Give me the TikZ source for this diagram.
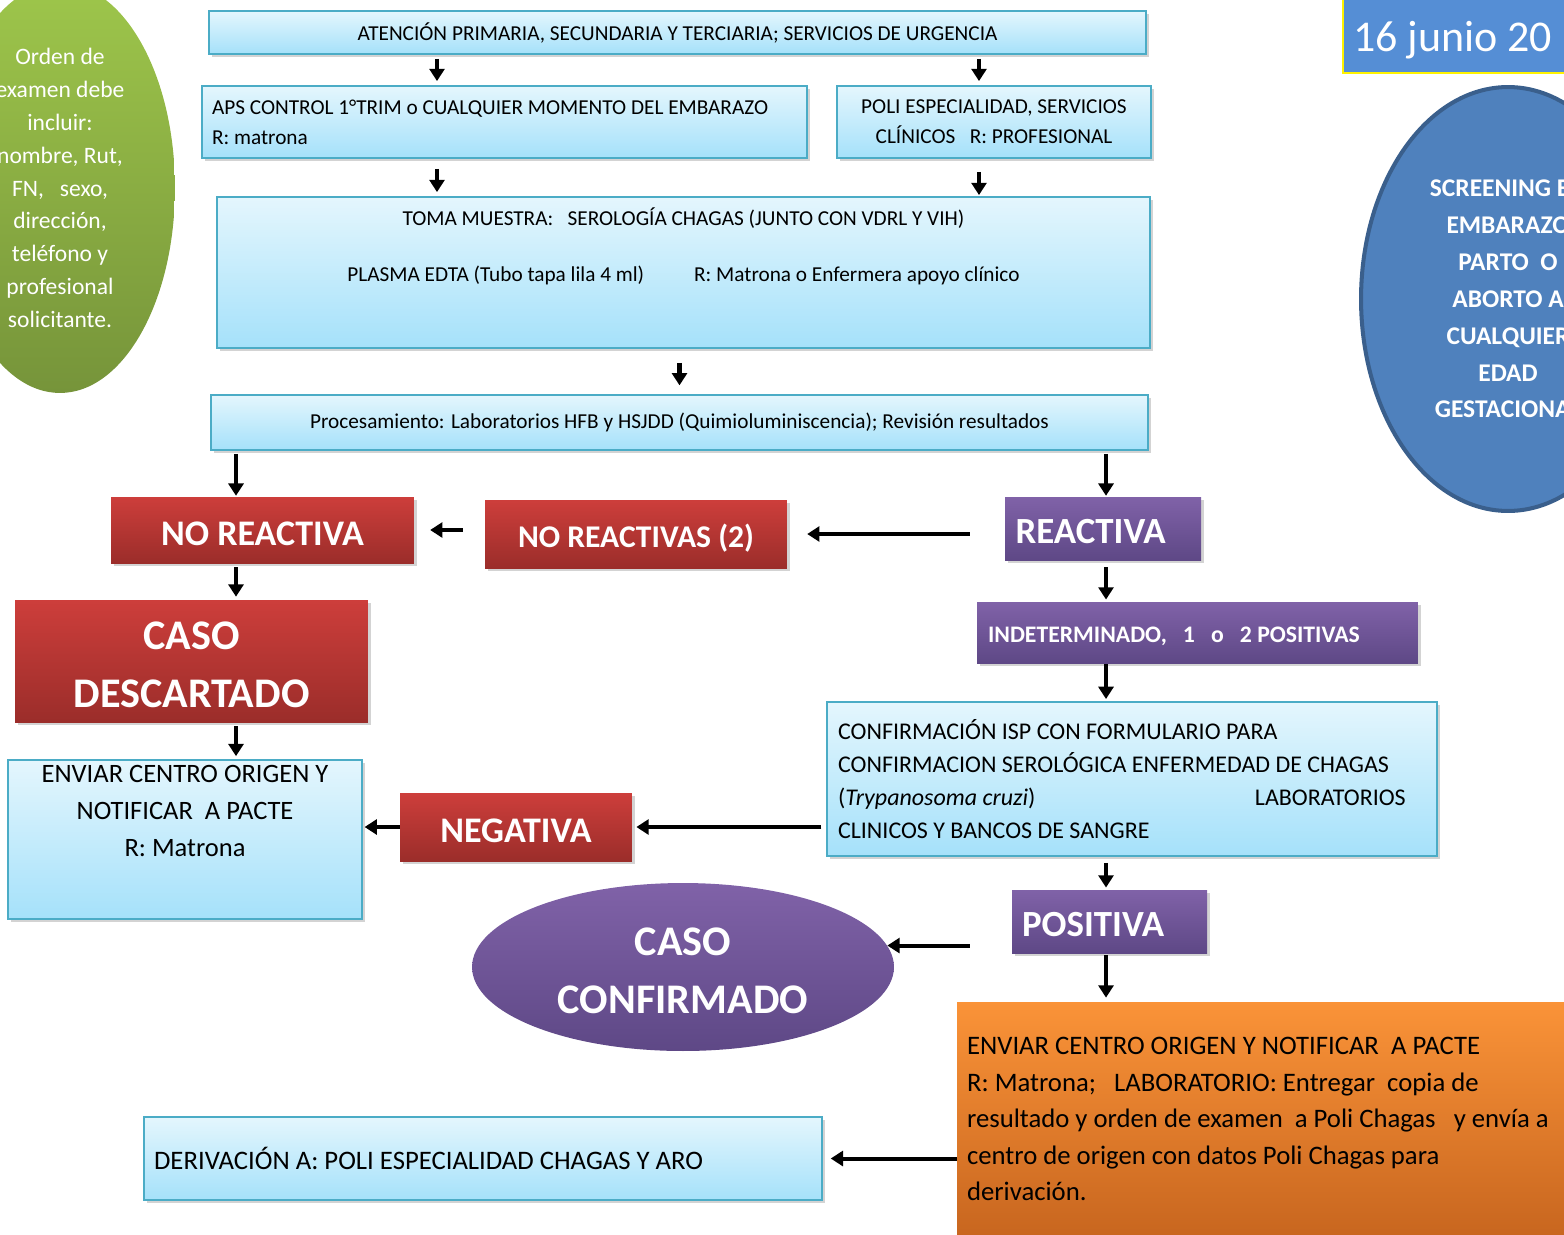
\documentclass[tikz,border=0pt]{standalone}
\usepackage{fontspec}
\setmainfont{Carlito}
\usetikzlibrary{arrows.meta,positioning,shapes.geometric,shadows}

\definecolor{cyanedge}{HTML}{4BACC6}
\definecolor{cyantop}{HTML}{E4F6FD}
\definecolor{cyanbot}{HTML}{A5E1FA}
\definecolor{redtop}{HTML}{CD3E3B}
\definecolor{redbot}{HTML}{9B2D2A}
\definecolor{purtop}{HTML}{8062A8}
\definecolor{purbot}{HTML}{5E4886}
\definecolor{orgtop}{HTML}{FA9338}
\definecolor{orgbot}{HTML}{C8661F}
\definecolor{grntop}{HTML}{9EC64B}
\definecolor{grnbot}{HTML}{76943A}
\definecolor{ovalblue}{HTML}{4F81BD}
\definecolor{ovaledge}{HTML}{3A5F8C}
\definecolor{datefill}{HTML}{558ED5}

\tikzset{
  boxshadow/.style={drop shadow={shadow xshift=1.6pt,shadow yshift=-1.6pt,opacity=.35}},
  infobox/.style={draw=cyanedge, line width=1pt, top color=cyantop, bottom color=cyanbot,
                  inner sep=0pt, boxshadow},
  redbox/.style={top color=redtop, bottom color=redbot, text=white, inner sep=0pt, boxshadow,
                 font=\fontsize{20.5}{24}\selectfont\bfseries},
  purplebox/.style={top color=purtop, bottom color=purbot, text=white, boxshadow,
                    font=\fontsize{21}{24}\selectfont\bfseries},
  capline/.style={text height=17.5pt, text depth=0pt},
  leftlines/.style={align=flush left, execute at begin node={\spaceskip=0pt\xspaceskip=0pt}},
  flow/.style={line width=2.3pt, -{Triangle[length=7pt,width=8.5pt]}},
}

\begin{document}
\begin{tikzpicture}[x=0.02cm, y=-0.02cm]
  \useasboundingbox (0,0) rectangle (1564,1234);

  % side notes
  \node[ellipse, top color=grntop, bottom color=grnbot, text=white, inner sep=0pt,
        minimum width=4.6cm, minimum height=8.2cm, align=center,
        font=\fontsize{13.4}{18.7}\selectfont] (orden) at (60,188)
        {Orden de\\examen debe\\incluir:\\nombre, Rut,\\FN,\ \ \ sexo,\\dirección,\\teléfono y\\profesional\\solicitante.};
  \node[draw=yellow, line width=1pt, fill=datefill, text=white, inner xsep=0.2cm,
        minimum height=1.54cm, text width=4.74cm, text height=0.8cm, text depth=0.1cm, leftlines,
        font=\fontsize{25}{30}\selectfont] (fecha) at (1471.5,34.5) {16 junio 20};
  \node[ellipse, draw=ovaledge, line width=2.3pt, fill=ovalblue, text=white, inner sep=0pt,
        minimum width=5.88cm, minimum height=8.48cm, align=center,
        font=\fontsize{14.5}{21}\selectfont\bfseries] (screening) at (1508,299)
        {SCREENING EN\\EMBARAZO\\PARTO\ \ O\\ABORTO A\\CUALQUIER\\EDAD\\GESTACIONAL};

  % blue boxes, top part
  \node[infobox, minimum width=18.74cm, minimum height=0.86cm,
        font=\fontsize{12.1}{17}\selectfont] (atencion) at (677.5,32.5)
        {ATENCIÓN PRIMARIA, SECUNDARIA Y TERCIARIA; SERVICIOS DE URGENCIA};
  \node[infobox, minimum height=1.44cm, text width=11.7cm, inner xsep=0.2cm, leftlines,
        font=\fontsize{12.1}{17}\selectfont] (aps) at (504.5,122)
        {APS CONTROL 1°TRIM o CUALQUIER MOMENTO DEL EMBARAZO\\R: matrona};
  \node[infobox, minimum width=6.28cm, minimum height=1.44cm, align=center,
        font=\fontsize{12.1}{17}\selectfont] (poli) at (994,122)
        {POLI ESPECIALIDAD, SERVICIOS\\CLÍNICOS\ \ \ R: PROFESIONAL};
  \node[infobox, minimum width=18.66cm, minimum height=3.02cm, align=center,
        font=\fontsize{12.1}{15.9}\selectfont] (toma) at (683.5,272.5)
        {TOMA MUESTRA:\ \ \ SEROLOGÍA CHAGAS (JUNTO CON VDRL Y VIH)\\ \\
         PLASMA EDTA (Tubo tapa lila 4 ml)\hspace{1cm}R: Matrona o Enfermera apoyo clínico\\ \\ \mbox{}};
  \node[infobox, minimum width=18.74cm, minimum height=1.1cm,
        font=\fontsize{12.1}{17}\selectfont] (proc) at (679.5,422.5)
        {Procesamiento: Laboratorios HFB y HSJDD (Quimioluminiscencia);\ Revisión resultados};

  % results
  \node[redbox, capline, minimum width=6.06cm, minimum height=1.32cm] (noreact) at (262.5,530) {NO REACTIVA};
  \node[redbox, text height=15pt, text depth=0pt, minimum width=6.04cm, minimum height=1.36cm,
        font=\fontsize{18}{22}\selectfont\bfseries] (noreacts) at (636,534) {NO REACTIVAS (2)};
  \node[purplebox, capline, minimum height=1.26cm, text width=3.5cm, inner xsep=0.21cm, leftlines]
        (react) at (1103,528.5) {REACTIVA};
  \node[redbox, minimum width=7.06cm, minimum height=2.44cm, align=center,
        font=\fontsize{24}{32.9}\selectfont\bfseries] (descart) at (191.5,661)
        {\rule{0pt}{20.5pt}CASO\\DESCARTADO};
  \node[infobox, minimum width=7.08cm, minimum height=3.18cm, align=center,
        font=\fontsize{15.1}{21}\selectfont] (enviar) at (185,839.5)
        {ENVIAR CENTRO ORIGEN Y\\NOTIFICAR\ \ A PACTE\\R: Matrona\\[0.42cm]\mbox{}};
  \node[purplebox, text height=11pt, text depth=0pt, minimum height=1.22cm, text width=8.38cm,
        inner xsep=0.22cm, leftlines,
        font=\fontsize{13.5}{16}\selectfont\bfseries] (indet) at (1197.5,632.5)
        {INDETERMINADO,\ \ \ 1\ \ \ o\ \ \ 2 POSITIVAS};
  \node[infobox, minimum height=3.08cm, text width=11.76cm, inner xsep=0.22cm, leftlines,
        font=\fontsize{13.65}{18.7}\selectfont] (confirm) at (1132,779)
        {CONFIRMACIÓN ISP CON FORMULARIO PARA\\
         CONFIRMACION SEROLÓGICA ENFERMEDAD DE CHAGAS\\
         \makebox[8.34cm][l]{(\textit{Trypanosoma cruzi})}LABORATORIOS\\
         CLINICOS Y BANCOS DE SANGRE};
  \node[redbox, capline, minimum width=4.64cm, minimum height=1.36cm] (negativa) at (516,827) {NEGATIVA};
  \node[purplebox, capline, minimum height=1.26cm, text width=3.5cm, inner xsep=0.2cm, leftlines]
        (positiva) at (1109.5,921.5) {POSITIVA};
  \node[ellipse, top color=purtop, bottom color=purbot, text=white, inner sep=0pt,
        minimum width=8.44cm, minimum height=3.36cm, align=center,
        font=\fontsize{24}{32.9}\selectfont\bfseries] (casoconf) at (683,967)
        {\rule{0pt}{20.5pt}CASO\\CONFIRMADO};
  \node[top color=orgtop, bottom color=orgbot, boxshadow, minimum height=4.68cm,
        text width=12.46cm, inner xsep=0.2cm, leftlines,
        font=\fontsize{15.2}{20.8}\selectfont] (orange) at (1278.5,1119)
        {ENVIAR CENTRO ORIGEN Y NOTIFICAR\ \ A PACTE\\
         R: Matrona;\ \ \ LABORATORIO: Entregar\ \ copia de\\
         resultado y orden de examen\ \ a Poli Chagas\ \ \ y envía a\\
         centro de origen con datos Poli Chagas para\\
         derivación.};
  \node[infobox, minimum height=1.66cm, text width=13.16cm, inner xsep=0.2cm, leftlines,
        font=\fontsize{15.2}{20}\selectfont] (deriv) at (483,1158.5)
        {DERIVACIÓN A: POLI ESPECIALIDAD CHAGAS Y ARO};

  % arrow columns
  \coordinate (lcol) at (437,0);
  \coordinate (rcol) at (979,0);
  \coordinate (ncol) at (236,0);
  \coordinate (pcol) at (1106,0);

  % connectors
  \draw[flow, shorten <=2.3pt, shorten >=2.3pt] (atencion.south -| lcol) -- (aps.north -| lcol);
  \draw[flow, shorten <=2.3pt, shorten >=2.3pt] (atencion.south -| rcol) -- (poli.north -| rcol);
  \draw[flow, shorten <=5.7pt, shorten >=2.3pt] (aps.south -| lcol) -- (toma.north -| lcol);
  \draw[flow, shorten <=7.4pt, shorten >=0.6pt] (poli.south -| rcol) -- (toma.north -| rcol);
  \draw[flow, shorten <=8pt, shorten >=5pt] (toma.south -| proc.north) -- (proc.north);
  \draw[flow, shorten <=1.7pt, shorten >=0.5pt] (proc.south -| ncol) -- (noreact.north -| ncol);
  \draw[flow, shorten <=1.7pt, shorten >=0.5pt] (proc.south -| pcol) -- (react.north -| pcol);
  \draw[flow, shorten <=19.8pt, shorten >=11.3pt] (react.west |- noreacts.east) -- (noreacts.east);
  \draw[flow, shorten <=12.5pt, shorten >=9pt] (noreacts.west |- noreact.east) -- (noreact.east);
  \draw[flow, shorten <=2.3pt, shorten >=1.7pt] (noreact.south -| ncol) -- (descart.north -| ncol);
  \draw[flow, shorten <=2.3pt, shorten >=1.7pt] (descart.south -| ncol) -- (enviar.north -| ncol);
  \draw[flow, shorten <=4pt, shorten >=1.2pt] (react.south -| pcol) -- (indet.north -| pcol);
  \draw[flow, shorten <=0.6pt, shorten >=1.2pt] (indet.south -| pcol) -- (confirm.north -| pcol);
  \draw[flow, shorten <=2.8pt, shorten >=2.3pt] (confirm.west |- negativa.east) -- (negativa.east);
  \draw[flow, shorten >=1pt] (negativa.west) -- (negativa.west -| enviar.east);
  \draw[flow, shorten <=3.4pt, shorten >=1.2pt] (confirm.south -| pcol) -- (positiva.north -| pcol);
  \draw[flow, shorten <=23.8pt] (positiva.west |- casoconf.6) -- (casoconf.6);
  \draw[flow, shorten <=1.2pt, shorten >=2.3pt] (positiva.south -| pcol) -- (orange.north -| pcol);
  \draw[flow, shorten >=4.5pt] (orange.west |- deriv.east) -- (deriv.east);
\end{tikzpicture}
\end{document}
